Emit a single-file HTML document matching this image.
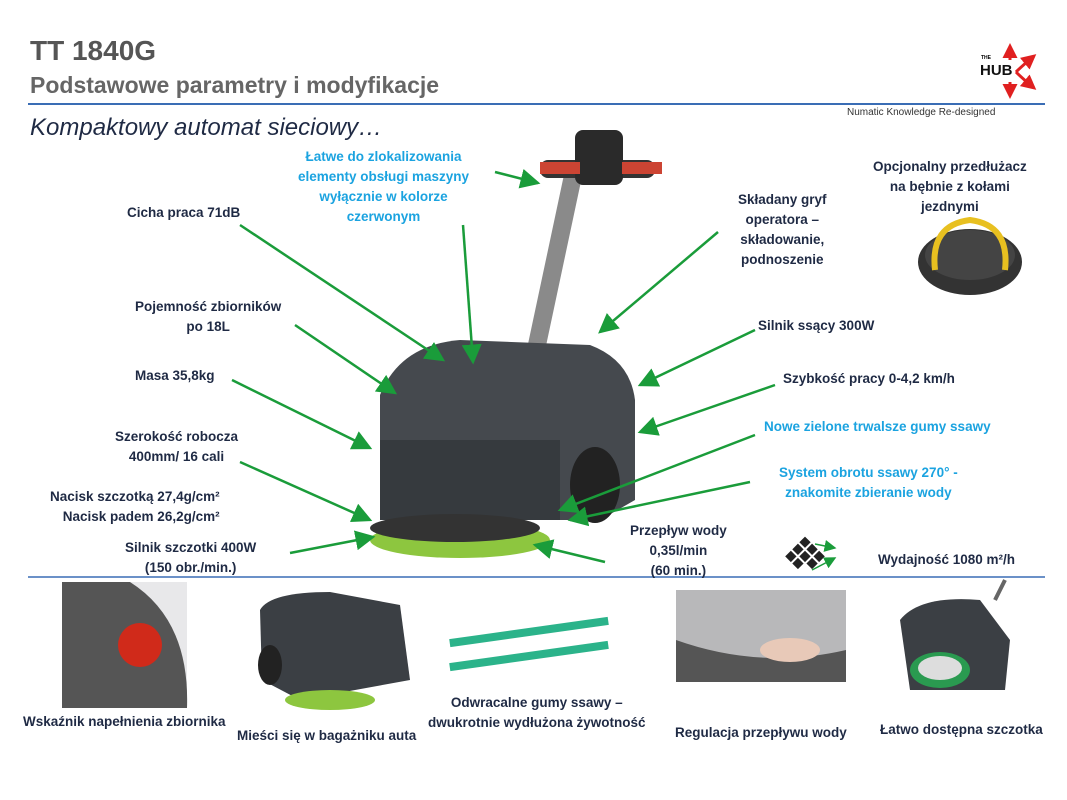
<!DOCTYPE html><html><head><meta charset="utf-8"><style>
body{margin:0;width:1067px;height:800px;background:#fff;position:relative;overflow:hidden;font-family:"Liberation Sans",sans-serif}
.t{position:absolute;font-weight:bold;font-size:13.5px;color:#1f2a44;text-align:center;line-height:20px;white-space:nowrap}
.b{color:#1ba3e0}
</style></head><body>
<div style="position:absolute;left:30px;top:35px;font-size:28px;font-weight:bold;color:#555">TT 1840G</div>
<div style="position:absolute;left:30px;top:72px;font-size:23px;font-weight:bold;color:#666">Podstawowe parametry i modyfikacje</div>
<div style="position:absolute;left:30px;top:114px;font-size:24px;font-style:italic;color:#1f2a44">Kompaktowy automat sieciowy…</div>
<div style="position:absolute;left:847px;top:107px;font-size:10px;color:#333">Numatic Knowledge Re-designed</div>
<div style="position:absolute;left:980px;top:62px;font-size:15px;font-weight:bold;color:#111">HUB</div>
<div style="position:absolute;left:981px;top:55px;font-size:5px;font-weight:bold">THE</div>
<svg width="1067" height="800" style="position:absolute;left:0;top:0">
<defs><marker id="a" markerWidth="8" markerHeight="8" refX="7" refY="4" orient="auto"><path d="M0,0L8,4L0,8z" fill="#1a9c3a"/></marker>
<marker id="r" markerWidth="5" markerHeight="5" refX="4" refY="2.5" orient="auto"><path d="M0,0L5,2.5L0,5z" fill="#e02020"/></marker></defs>
<g stroke="#e02020" stroke-width="3" fill="none" marker-end="url(#r)">
<line x1="1010" y1="60" x2="1010" y2="46"/><line x1="1010" y1="82" x2="1010" y2="96"/>
<path d="M1016,72 Q1022,66 1034,56"/><path d="M1016,72 Q1022,78 1034,88"/></g>
<line x1="28" y1="104" x2="1045" y2="104" stroke="#3a6db5" stroke-width="2"/>
<line x1="28" y1="577" x2="1045" y2="577" stroke="#3a6db5" stroke-width="1.5"/>
<rect x="545" y="175" width="18" height="180" fill="#8a8a8a" transform="rotate(12 554 265)"/>
<rect x="540" y="160" width="115" height="18" rx="8" fill="#333"/>
<rect x="575" y="130" width="48" height="55" rx="8" fill="#2a2a2a"/>
<rect x="540" y="162" width="40" height="12" fill="#c43"/><rect x="622" y="162" width="40" height="12" fill="#c43"/>
<path d="M380,395 Q400,345 460,340 L590,345 Q630,360 635,400 L635,500 L600,520 L380,520 Z" fill="#45494e"/>
<path d="M380,440 L560,440 L560,520 L380,520Z" fill="#363a3e"/>
<ellipse cx="595" cy="485" rx="25" ry="38" fill="#222"/>
<ellipse cx="460" cy="540" rx="90" ry="18" fill="#8dc63f"/>
<ellipse cx="455" cy="528" rx="85" ry="14" fill="#333"/>
<g stroke="#1a9c3a" stroke-width="2.5" fill="none" marker-end="url(#a)">
<line x1="240" y1="225" x2="443" y2="360"/><line x1="463" y1="225" x2="473" y2="362"/>
<line x1="495" y1="172" x2="538" y2="183"/><line x1="718" y1="232" x2="600" y2="332"/>
<line x1="295" y1="325" x2="395" y2="393"/><line x1="232" y1="380" x2="370" y2="448"/>
<line x1="240" y1="462" x2="370" y2="520"/><line x1="290" y1="553" x2="373" y2="537"/>
<line x1="755" y1="330" x2="640" y2="385"/><line x1="775" y1="385" x2="640" y2="432"/>
<line x1="755" y1="435" x2="560" y2="510"/><line x1="750" y1="482" x2="570" y2="520"/>
<line x1="605" y1="562" x2="535" y2="545"/></g>
<ellipse cx="970" cy="262" rx="52" ry="33" fill="#333"/><ellipse cx="970" cy="255" rx="45" ry="25" fill="#444"/>
<path d="M935,270 Q930,225 970,220 Q1010,225 1005,270" stroke="#e8c020" stroke-width="6" fill="none"/>
<g fill="#222" transform="rotate(45 805 555)"><rect x="792" y="542" width="8" height="8"/><rect x="802" y="542" width="8" height="8"/><rect x="812" y="542" width="8" height="8"/><rect x="792" y="552" width="8" height="8"/><rect x="802" y="552" width="8" height="8"/><rect x="812" y="552" width="8" height="8"/><rect x="792" y="562" width="8" height="8"/><rect x="802" y="562" width="8" height="8"/></g>
<g stroke="#1a9c3a" stroke-width="1.5" marker-end="url(#a)"><line x1="815" y1="544" x2="835" y2="548"/><line x1="812" y1="570" x2="835" y2="558"/></g>
<rect x="62" y="582" width="125" height="126" fill="#e8e8ea"/><path d="M62,582 L130,582 Q190,620 187,708 L62,708Z" fill="#555"/><circle cx="140" cy="645" r="22" fill="#d02a1a"/>
<path d="M260,610 Q270,592 330,592 L400,605 L410,680 L300,700 L262,680Z" fill="#3b3f44"/><ellipse cx="270" cy="665" rx="12" ry="20" fill="#222"/><ellipse cx="330" cy="700" rx="45" ry="10" fill="#8dc63f"/>
<rect x="449" y="628" width="160" height="8" fill="#2bb38a" transform="rotate(-8 529 632)"/><rect x="449" y="652" width="160" height="8" fill="#2bb38a" transform="rotate(-8 529 656)"/>
<rect x="676" y="590" width="170" height="92" fill="#b8b8ba"/><path d="M676,640 Q760,670 846,650 L846,682 L676,682Z" fill="#555"/><ellipse cx="790" cy="650" rx="30" ry="12" fill="#e8c9b8"/>
<path d="M900,620 Q920,595 980,600 L1010,640 L1005,690 L910,690Z" fill="#3b3f44"/><ellipse cx="940" cy="670" rx="30" ry="18" fill="#2a9a50"/><ellipse cx="940" cy="668" rx="22" ry="12" fill="#ddd"/><line x1="995" y1="600" x2="1005" y2="580" stroke="#666" stroke-width="4"/>
</svg>
<div class="t b" style="left:298px;top:147px">Łatwe do zlokalizowania<br>elementy obsługi maszyny<br>wyłącznie w kolorze<br>czerwonym</div>
<div class="t" style="left:127px;top:203px">Cicha praca 71dB</div>
<div class="t" style="left:738px;top:190px">Składany gryf<br>operatora –<br>składowanie,<br>podnoszenie</div>
<div class="t" style="left:873px;top:157px">Opcjonalny przedłużacz<br>na bębnie z kołami<br>jezdnymi</div>
<div class="t" style="left:135px;top:297px">Pojemność zbiorników<br>po 18L</div>
<div class="t" style="left:758px;top:316px">Silnik ssący 300W</div>
<div class="t" style="left:135px;top:366px">Masa 35,8kg</div>
<div class="t" style="left:783px;top:369px">Szybkość pracy 0-4,2 km/h</div>
<div class="t" style="left:115px;top:427px">Szerokość robocza<br>400mm/ 16 cali</div>
<div class="t b" style="left:764px;top:417px">Nowe zielone trwalsze gumy ssawy</div>
<div class="t b" style="left:779px;top:463px">System obrotu ssawy 270° -<br>znakomite zbieranie wody</div>
<div class="t" style="left:50px;top:487px;text-align:right">Nacisk szczotką 27,4g/cm²<br>Nacisk padem 26,2g/cm²</div>
<div class="t" style="left:630px;top:521px">Przepływ wody<br>0,35l/min<br>(60 min.)</div>
<div class="t" style="left:125px;top:538px">Silnik szczotki 400W<br>(150 obr./min.)</div>
<div class="t" style="left:878px;top:550px">Wydajność 1080 m²/h</div>
<div class="t" style="left:23px;top:712px">Wskaźnik napełnienia zbiornika</div>
<div class="t" style="left:237px;top:726px">Mieści się w bagażniku auta</div>
<div class="t" style="left:428px;top:693px">Odwracalne gumy ssawy –<br>dwukrotnie wydłużona żywotność</div>
<div class="t" style="left:675px;top:723px">Regulacja przepływu wody</div>
<div class="t" style="left:880px;top:720px">Łatwo dostępna szczotka</div>
</body></html>
